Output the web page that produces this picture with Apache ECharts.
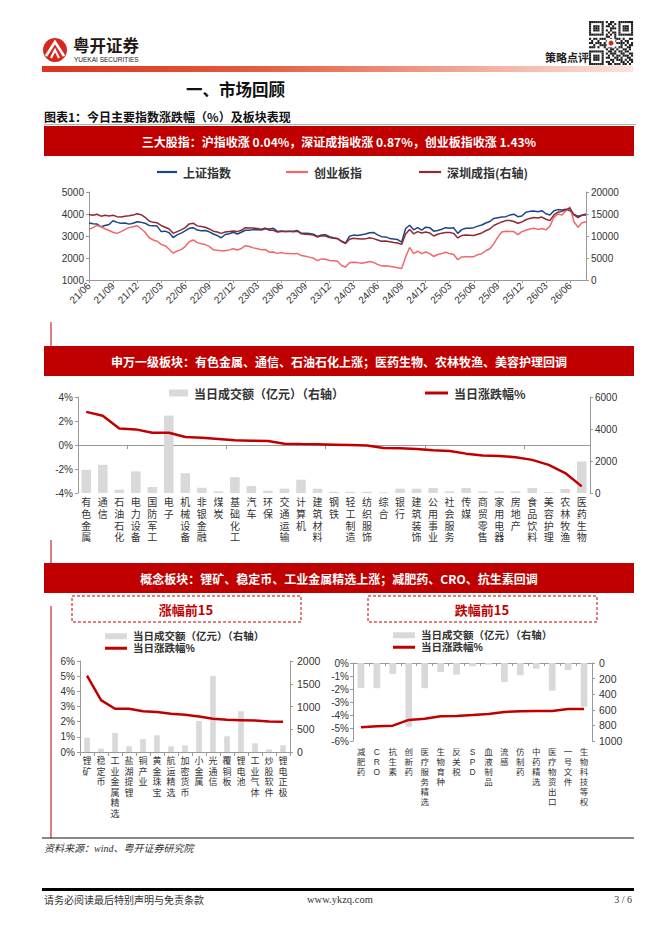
<!DOCTYPE html>
<html><head><meta charset="utf-8">
<script src="https://cdn.jsdelivr.net/npm/echarts/dist/echarts.min.js"></script>
<style>html,body{margin:0;padding:0;background:#fff}#c{width:662px;height:936px}</style>
</head><body><div id="c"></div>
<script>
// ===== Chart 1: index levels (semi-monthly readings) =====
const shIndex = [3590,3560,3540,3420,3480,3520,3690,3620,3580,3590,
3540,3580,3650,3620,3580,3480,3470,3450,3200,3220,
3150,2930,3050,3130,3230,3350,3380,3270,3240,3250,
3190,3090,3020,2920,3070,3100,3170,3090,3170,3260,
3260,3290,3280,3270,3330,3320,3350,3210,3230,3200,
3220,3220,3250,3120,3130,3110,3080,2980,3050,3060,
2970,2920,2890,2760,2680,2990,3040,3020,3060,3090,
3150,3160,3050,2970,2960,2890,2860,2840,2720,3340,
3490,3280,3380,3270,3400,3380,3220,3250,3310,3380,
3350,3370,3120,3290,3350,3350,3380,3450,3500,3590,
3660,3800,3830,3860,3880,3950,3990,3880,3910,4080,
4120,4140,4100,4150,4010,3950,4150,4200,4180,4220,
4150,3980,3900,3950,3960];
const cyIndex = [3300,3380,3480,3420,3330,3250,3170,3120,3200,3300,
3380,3420,3470,3330,3170,2920,2820,2760,2620,2560,
2400,2220,2320,2380,2520,2740,2820,2700,2650,2610,
2530,2380,2350,2330,2330,2370,2420,2360,2430,2560,
2520,2460,2420,2380,2390,2260,2270,2210,2250,2200,
2210,2190,2210,2110,2080,2040,1990,1880,1960,1940,
1890,1880,1850,1660,1590,1780,1810,1790,1760,1800,
1840,1800,1710,1640,1650,1620,1590,1560,1520,2050,
2480,2200,2310,2200,2270,2200,2070,2160,2200,2260,
2200,2160,1920,2050,2060,2060,2060,2150,2200,2330,
2420,2650,2950,3180,3220,3200,3200,3060,3200,3260,
3320,3350,3300,3340,3280,3450,3850,4000,3950,4150,
4320,3650,3400,3600,3650];
const szIndex = [14900,14700,14950,14500,14700,14550,14700,14400,14300,14500,
14600,14750,15050,14850,14250,13400,13100,13000,12400,12000,
11600,10600,11000,11400,11900,12750,12900,12300,12150,12000,
11600,11100,10900,10600,10900,11000,11150,11000,11300,11900,
11800,11800,11700,11550,11800,11300,11300,10900,11000,11000,
11050,10950,11100,10500,10400,10350,10200,9750,10050,10000,
9650,9500,9400,8800,8300,9250,9500,9400,9300,9350,
9600,9400,9100,8800,8850,8700,8500,8400,8100,10450,
11500,10500,11000,10700,10900,10700,10000,10400,10650,10800,
10800,10600,9550,10100,10200,10150,10100,10400,10700,11200,
11600,12400,12800,13200,13500,13500,13300,12900,13200,13700,
14000,14200,14100,14300,13800,13500,14800,15400,15600,16000,
16300,14800,14200,14700,15000];
// semi-monthly date categories starting 2021-06
const idxDates = [];
for (let i = 0; i < shIndex.length; i++) {
  const m = 5 + Math.floor(i / 2);
  const y = 2021 + Math.floor(m / 12);
  const mm = (m % 12) + 1;
  idxDates.push(y + '-' + String(mm).padStart(2, '0') + (i % 2 ? '-16' : '-01'));
}

// ===== Chart 2: Shenwan level-1 sectors =====
const swCats = ['有色金属','通信','石油石化','电力设备','国防军工','电子','机械设备','非银金融','煤炭','基础化工','汽车','环保','交通运输','计算机','建筑材料','钢铁','轻工制造','纺织服饰','综合','银行','建筑装饰','公用事业','社会服务','传媒','商贸零售','家用电器','房地产','食品饮料','美容护理','农林牧渔','医药生物'];
const swChg = [2.76,2.43,1.38,1.30,1.02,1.02,0.66,0.61,0.50,0.39,0.36,0.33,0.11,0.08,0.06,0.03,0.00,-0.05,-0.25,-0.28,-0.33,-0.44,-0.50,-0.72,-0.88,-0.91,-1.02,-1.24,-1.66,-2.34,-3.45];
const swAmt = [1450,1760,210,1350,370,4840,1240,330,100,990,430,145,270,830,270,80,80,80,40,270,270,310,100,310,100,100,100,310,60,250,1970];

// ===== Chart 3: concept sectors =====
const upCats = ['锂矿','稳定币','工业金属精选','盐湖提锂','铜产业','黄金珠宝','航运精选','加密货币','小金属','光通信','覆铜板','锂电池','工业气体','炒股软件','锂电正极'];
const upChg = [5.03,3.42,2.85,2.85,2.69,2.63,2.52,2.45,2.34,2.19,2.12,2.10,2.08,2.01,1.99];
const upAmt = [316,74,419,125,287,368,125,147,684,1669,346,897,191,59,147];
const dnCats = ['减肥药','CRO','抗生素','创新药','医疗服务精选','生物育种','反关税','SPD','血液制品','流感','仿制药','中药精选','医疗物资出口','一号文件','生物科技等权'];
const dnChg = [-4.95,-4.87,-4.82,-4.38,-4.28,-4.10,-4.07,-4.00,-3.92,-3.77,-3.72,-3.70,-3.70,-3.54,-3.54];
const dnAmt = [319,323,140,817,323,115,149,43,21,243,157,72,353,89,562];

// ===== styles =====
const CN = '"Noto Sans CJK SC", sans-serif';
const VCN = '"Liberation Sans", "Noto Sans CJK SC", sans-serif';
const NUM = '"Liberation Sans", Arial, sans-serif';
const SERIF = '"Liberation Serif", "Noto Sans CJK SC", serif';
const RED = '#C00000';
const AX = '#999';
const AMT = '当日成交额（亿元）（右轴）';
const CHG = '当日涨跌幅%';
const vert = v => v.split('').join('\n');
const plain = v => String(v);
const pct = v => v + '%';

function yAx(grid, min, max, interval, fmt, pos, extra) {
  return Object.assign({
    type: 'value', gridIndex: grid, min, max, interval, position: pos,
    axisLine: { show: true, lineStyle: { color: AX } },
    axisTick: { show: true, length: 3, lineStyle: { color: AX } },
    splitLine: { show: false },
    axisLabel: { formatter: fmt, fontSize: 10, color: '#333', fontFamily: NUM, margin: 5 }
  }, extra || {});
}
function leg(name, left, top, icon, w, h, fs, ff) {
  return { data: [name], left, top, icon, itemWidth: w, itemHeight: h, itemGap: 0,
    selectedMode: false, padding: 0,
    textStyle: { fontSize: fs, fontFamily: ff || CN, fontWeight: 'bold', color: '#333', padding: [0,0,0,1] } };
}

// QR-like decoration pattern
const qrRows = ["111111101011001111111","100000100110101000001","101110101101001011101","101110100011101011101","101110101010001011101","100000100101101000001","111111101010101111111","000000001100100000000","101101110010111010011","010010001101100101100","110111010010011110101","001001111011000101011","111010010110101100110","000000001011010011010","111111100110101101100","100000101011100110011","101110100101011011101","101110101100110100110","101110100011011101011","100000101101000110101","111111100110111011010"];
const qrEls = [];
const qx = 589, qy = 21, qm = 2.1;
qrRows.forEach((r, ri) => { for (let ci = 0; ci < r.length; ci++) if (r[ci] === '1') qrEls.push({ type: 'rect', shape: { x: qx + ci * qm, y: qy + ri * qm, width: qm, height: qm }, style: { fill: '#222' } }); });
qrEls.push({ type: 'rect', shape: { x: qx + 8.5 * qm, y: qy + 8.5 * qm, width: 4 * qm, height: 4 * qm }, style: { fill: '#fff', stroke: '#ccc', lineWidth: 0.5 } });
qrEls.push({ type: 'circle', shape: { cx: qx + 10.5 * qm, cy: qy + 10.5 * qm, r: 2.5 }, style: { fill: '#D7261E' } });

const T = (text, x, y, o) => ({ type: 'text', style: Object.assign({ text, x, y, fontFamily: CN, fontSize: 12, fill: '#222', align: 'left', verticalAlign: 'middle' }, o || {}) });
const R = (x, y, w, h, o) => ({ type: 'rect', shape: { x, y, width: w, height: h }, style: Object.assign({ fill: RED }, o || {}) });

const graphics = [
  // logo
  { type: 'circle', shape: { cx: 55, cy: 50, r: 12 }, style: { fill: '#D7261E' } },
  { type: 'polyline', shape: { points: [[46, 56], [55, 42], [64, 56]] }, style: { stroke: '#fff', lineWidth: 2.6, fill: null } },
  { type: 'polyline', shape: { points: [[51, 58], [55, 50], [59, 58]] }, style: { stroke: '#fff', lineWidth: 2, fill: null } },
  T('粤开证券', 73, 45, { fontSize: 16.5, fontWeight: 'bold', fill: '#231815' }),
  T('YUEKAI SECURITIES', 74, 59, { fontSize: 6.5, fontFamily: NUM, fill: '#231815' }),
  T('策略点评', 545, 57, { fontSize: 11, fontWeight: 'bold', fill: '#222' }),
  // header gradient bar
  { type: 'rect', shape: { x: 42, y: 66, width: 591, height: 6 }, style: { fill: new echarts.graphic.LinearGradient(0, 0, 1, 0, [{ offset: 0, color: '#D8351C' }, { offset: 0.35, color: '#E45A3C' }, { offset: 1, color: '#FBE3DC' }]) } },
  T('一、市场回顾', 186, 89, { fontSize: 16.5, fontWeight: 'bold', fill: '#111' }),
  T('图表1：今日主要指数涨跌幅（%）及板块表现', 44, 116, { fontSize: 12, fontWeight: 'bold', fill: '#111' }),
  R(44, 124, 592, 0.8, { fill: '#999' }),
  R(44, 126, 590, 30),
  T('三大股指：沪指收涨 0.04%，深证成指收涨 0.87%，创业板指收涨 1.43%', 339, 141, { fontSize: 12, fontWeight: 'bold', fill: '#fff', align: 'center' }),
  R(50.5, 322, 1, 24),
  R(44, 346, 590, 30),
  T('申万一级板块：有色金属、通信、石油石化上涨；医药生物、农林牧渔、美容护理回调', 339, 361, { fontSize: 12, fontWeight: 'bold', fill: '#fff', align: 'center' }),
  R(50.5, 540, 1, 23),
  R(44, 563, 590, 30),
  T('概念板块：锂矿、稳定币、工业金属精选上涨；减肥药、CRO、抗生素回调', 339, 578, { fontSize: 12, fontWeight: 'bold', fill: '#fff', align: 'center' }),
  R(50.5, 606, 1, 232),
  { type: 'rect', shape: { x: 72, y: 596, width: 229, height: 26 }, style: { fill: null, stroke: RED, lineWidth: 1, lineDash: [3, 2] } },
  T('涨幅前15', 186, 609, { fontSize: 13, fontWeight: 'bold', fill: RED, align: 'center' }),
  { type: 'rect', shape: { x: 368, y: 596, width: 229, height: 26 }, style: { fill: null, stroke: RED, lineWidth: 1, lineDash: [3, 2] } },
  T('跌幅前15', 482, 609, { fontSize: 13, fontWeight: 'bold', fill: RED, align: 'center' }),
  R(42, 837.5, 592, 1, { fill: '#111' }),
  T('资料来源：wind、粤开证券研究院', 44, 848, { fontSize: 10, fontFamily: SERIF, fontStyle: 'italic', fill: '#333' }),
  R(42, 888, 592, 3, { fill: '#000' }),
  T('请务必阅读最后特别声明与免责条款', 44, 899, { fontSize: 10, fontFamily: '"Noto Sans CJK SC", serif', fill: '#333' }),
  T('www.ykzq.com', 307, 899, { fontSize: 10.5, fontFamily: SERIF, fill: '#333' }),
  T('3 / 6', 632, 899, { fontSize: 10, fontFamily: SERIF, fill: '#333', align: 'right' }),
  { type: 'group', children: qrEls }
];

const option = {
  animation: false,
  backgroundColor: '#fff',
  textStyle: { fontFamily: CN },
  graphic: graphics,
  legend: [
    leg('上证指数', 157, 166, 'rect', 20, 2.2, 12),
    leg('创业板指', 286, 166, 'rect', 22, 2.2, 12),
    leg('深圳成指(右轴)', 419, 166, 'rect', 22, 2.2, 12),
    leg(AMT, 169, 387, 'rect', 19, 7, 12),
    leg(CHG, 425, 387, 'rect', 23, 3, 12),
    leg(AMT, 105, 631, 'rect', 22, 6, 10.5, VCN),
    leg(CHG, 105, 643, 'rect', 22, 3, 10.5, VCN),
    leg(AMT, 393, 630, 'rect', 22, 6, 10.5, VCN),
    leg(CHG, 393, 642, 'rect', 22, 3, 10.5, VCN)
  ],
  grid: [
    { left: 89, top: 192, width: 497, height: 88, outerBoundsMode: 'none', containLabel: false },
    { left: 78, top: 397, width: 512, height: 96, outerBoundsMode: 'none', containLabel: false },
    { left: 80, top: 661, width: 210, height: 91, outerBoundsMode: 'none', containLabel: false },
    { left: 353, top: 663, width: 239, height: 78, outerBoundsMode: 'none', containLabel: false }
  ],
  xAxis: [
    { // 0 chart1
      type: 'category', gridIndex: 0, data: idxDates, boundaryGap: false,
      axisLine: { lineStyle: { color: AX } },
      axisTick: { show: true, interval: 5, length: 3, lineStyle: { color: AX } },
      axisLabel: { interval: 5, rotate: 45, fontSize: 10, color: '#333', fontFamily: NUM, margin: 4,
        formatter: v => v.slice(2, 4) + '/' + v.slice(5, 7) }
    },
    { // 1 chart2 labels
      type: 'category', gridIndex: 1, data: swCats, position: 'bottom',
      axisLine: { show: false, onZero: false }, axisTick: { show: false },
      axisLabel: { interval: 0, formatter: vert, fontSize: 10, lineHeight: 11.7, color: '#333', fontFamily: VCN, margin: 4, verticalAlign: 'top' }
    },
    { // 2 chart2 zero line
      type: 'category', gridIndex: 1, data: swCats, position: 'bottom',
      axisLine: { show: true, onZero: true, onZeroAxisIndex: 2, lineStyle: { color: AX } },
      axisTick: { show: true, length: 4, interval: i => i % 6 === 3, lineStyle: { color: AX } },
      axisLabel: { show: false }
    },
    { // 3 chart3 left
      type: 'category', gridIndex: 2, data: upCats, position: 'bottom',
      axisLine: { show: true, onZero: false, lineStyle: { color: AX } },
      axisTick: { show: true, length: 4, interval: 0, lineStyle: { color: AX } },
      axisLabel: { interval: 0, formatter: vert, fontSize: 9, lineHeight: 10.5, color: '#333', fontFamily: VCN, margin: 4, verticalAlign: 'top' }
    },
    { // 4 chart3 right labels
      type: 'category', gridIndex: 3, data: dnCats, position: 'bottom',
      axisLine: { show: false, onZero: false }, axisTick: { show: false },
      axisLabel: { interval: 0, formatter: vert, fontSize: 8.5, lineHeight: 10, color: '#333', fontFamily: VCN, margin: 6, verticalAlign: 'top' }
    },
    { // 5 chart3 right top line
      type: 'category', gridIndex: 3, data: dnCats, position: 'top',
      axisLine: { show: true, onZero: false, lineStyle: { color: AX } },
      axisTick: { show: true, inside: true, length: 3, interval: 0, lineStyle: { color: AX } },
      axisLabel: { show: false }
    }
  ],
  yAxis: [
    yAx(0, 1000, 5000, 1000, plain, 'left'),
    yAx(0, 0, 20000, 5000, plain, 'right'),
    yAx(1, -4, 4, 2, pct, 'left'),
    yAx(1, 0, 6000, 2000, plain, 'right'),
    yAx(2, 0, 6, 1, pct, 'left'),
    yAx(2, 0, 2000, 500, plain, 'right', { axisLabel: { formatter: plain, fontSize: 10.5, color: '#333', fontFamily: NUM, margin: 7 } }),
    yAx(3, -6, 0, 1, pct, 'left', { axisLabel: { formatter: pct, fontSize: 10, color: '#333', fontFamily: NUM, margin: 4 } }),
    yAx(3, 0, 1000, 200, plain, 'right', { inverse: true, axisLabel: { formatter: plain, fontSize: 10.5, color: '#333', fontFamily: NUM, margin: 7 } })
  ],
  series: [
    { name: '上证指数', type: 'line', xAxisIndex: 0, yAxisIndex: 0, data: shIndex, showSymbol: false, symbol: 'none', lineStyle: { width: 1.5, color: '#1C4587' }, itemStyle: { color: '#1C4587' } },
    { name: '创业板指', type: 'line', xAxisIndex: 0, yAxisIndex: 0, data: cyIndex, showSymbol: false, symbol: 'none', lineStyle: { width: 1.5, color: '#F0676C' }, itemStyle: { color: '#F0676C' } },
    { name: '深圳成指(右轴)', type: 'line', xAxisIndex: 0, yAxisIndex: 1, data: szIndex, showSymbol: false, symbol: 'none', lineStyle: { width: 1.5, color: '#8E2A33' }, itemStyle: { color: '#8E2A33' } },

    { name: AMT, type: 'bar', xAxisIndex: 1, yAxisIndex: 3, data: swAmt, barWidth: '58%', itemStyle: { color: '#D9D9D9' } },
    { name: CHG, type: 'line', xAxisIndex: 1, yAxisIndex: 2, data: swChg, showSymbol: false, symbol: 'none', lineStyle: { width: 2.5, color: RED }, itemStyle: { color: RED } },

    { name: AMT, type: 'bar', xAxisIndex: 3, yAxisIndex: 5, data: upAmt, barWidth: '40%', itemStyle: { color: '#D9D9D9' } },
    { name: CHG, type: 'line', xAxisIndex: 3, yAxisIndex: 4, data: upChg, showSymbol: false, symbol: 'none', lineStyle: { width: 2.5, color: RED }, itemStyle: { color: RED } },

    { name: AMT, type: 'bar', xAxisIndex: 4, yAxisIndex: 7, data: dnAmt, barWidth: '42%', itemStyle: { color: '#D9D9D9' } },
    { name: CHG, type: 'line', xAxisIndex: 4, yAxisIndex: 6, data: dnChg, showSymbol: false, symbol: 'none', lineStyle: { width: 2.5, color: RED }, itemStyle: { color: RED } }
  ]
};
const chart = echarts.init(document.getElementById('c'), null, { renderer: 'svg', width: 662, height: 936 });
chart.setOption(option);
</script></body></html>
